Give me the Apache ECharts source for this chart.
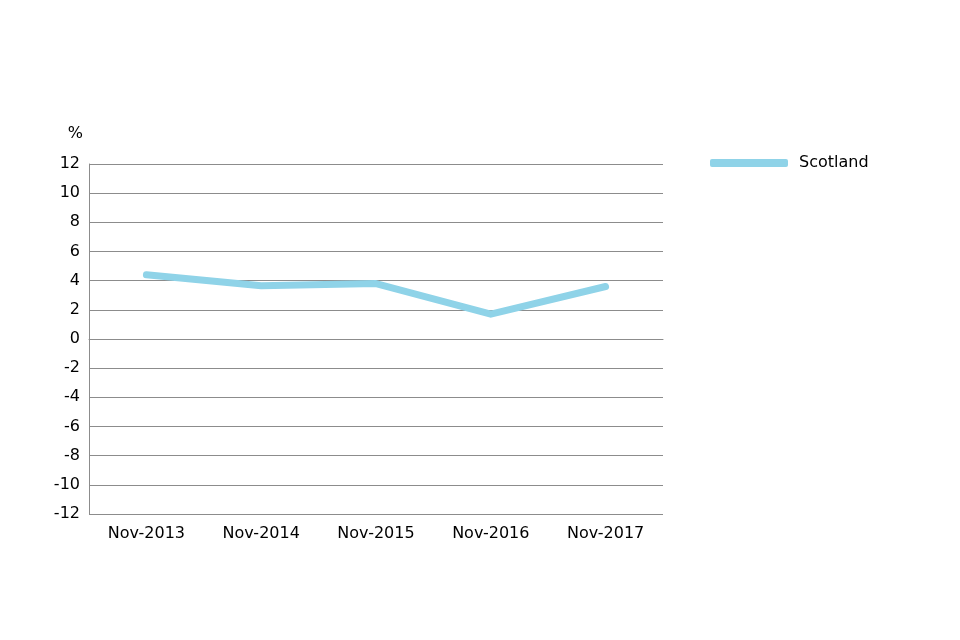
<!DOCTYPE html>
<html><head><meta charset="utf-8">
<script src="https://cdn.jsdelivr.net/npm/echarts@6/dist/echarts.min.js"></script>
<style>html,body{margin:0;padding:0;background:#fff}#c{width:960px;height:640px}</style>
</head><body><div id="c"></div>
<script>
const categories = ['Nov-2013','Nov-2014','Nov-2015','Nov-2016','Nov-2017'];
const scotland = [4.4, 3.65, 3.8, 1.7, 3.6];
const seriesName = 'Scotland';
const unitLabel = '%';

const chart = echarts.init(document.getElementById('c'));
chart.setOption({
  animation: false,
  textStyle: { fontFamily: 'DejaVu Sans' },
  grid: { left: 89, top: 164, width: 574, height: 350, containLabel: false },
  legend: {
    left: 705, top: 150, itemWidth: 78, itemHeight: 8, itemGap: 10,
    icon: 'roundRect',
    textStyle: { fontSize: 16, color: '#000', fontFamily: 'DejaVu Sans', padding: [0, 0, 0, 6] },
    data: [{ name: seriesName, itemStyle: { color: '#8fd3e8' } }]
  },
  xAxis: {
    type: 'category', data: categories, boundaryGap: true,
    axisLine: { show: true, lineStyle: { color: '#8c8c8c', width: 1 } },
    axisTick: { show: false },
    axisLabel: { color: '#000', fontSize: 16, margin: 12 }
  },
  yAxis: {
    type: 'value', min: -12, max: 12, interval: 2,
    name: unitLabel, nameLocation: 'end', nameGap: 22,
    nameTextStyle: { color: '#000', fontSize: 16, align: 'right', padding: [0, 6, 0, 0] },
    axisLine: { show: true, lineStyle: { color: '#8c8c8c', width: 1 } },
    axisTick: { show: false },
    axisLabel: { color: '#000', fontSize: 16, margin: 9 },
    splitLine: { show: true, lineStyle: { color: '#8c8c8c', width: 1 } }
  },
  series: [{
    name: seriesName, type: 'line', data: scotland,
    symbol: 'none',
    lineStyle: { color: '#8fd3e8', width: 7, cap: 'round', join: 'round' },
    itemStyle: { color: '#8fd3e8' }
  }]
});
</script></body></html>
